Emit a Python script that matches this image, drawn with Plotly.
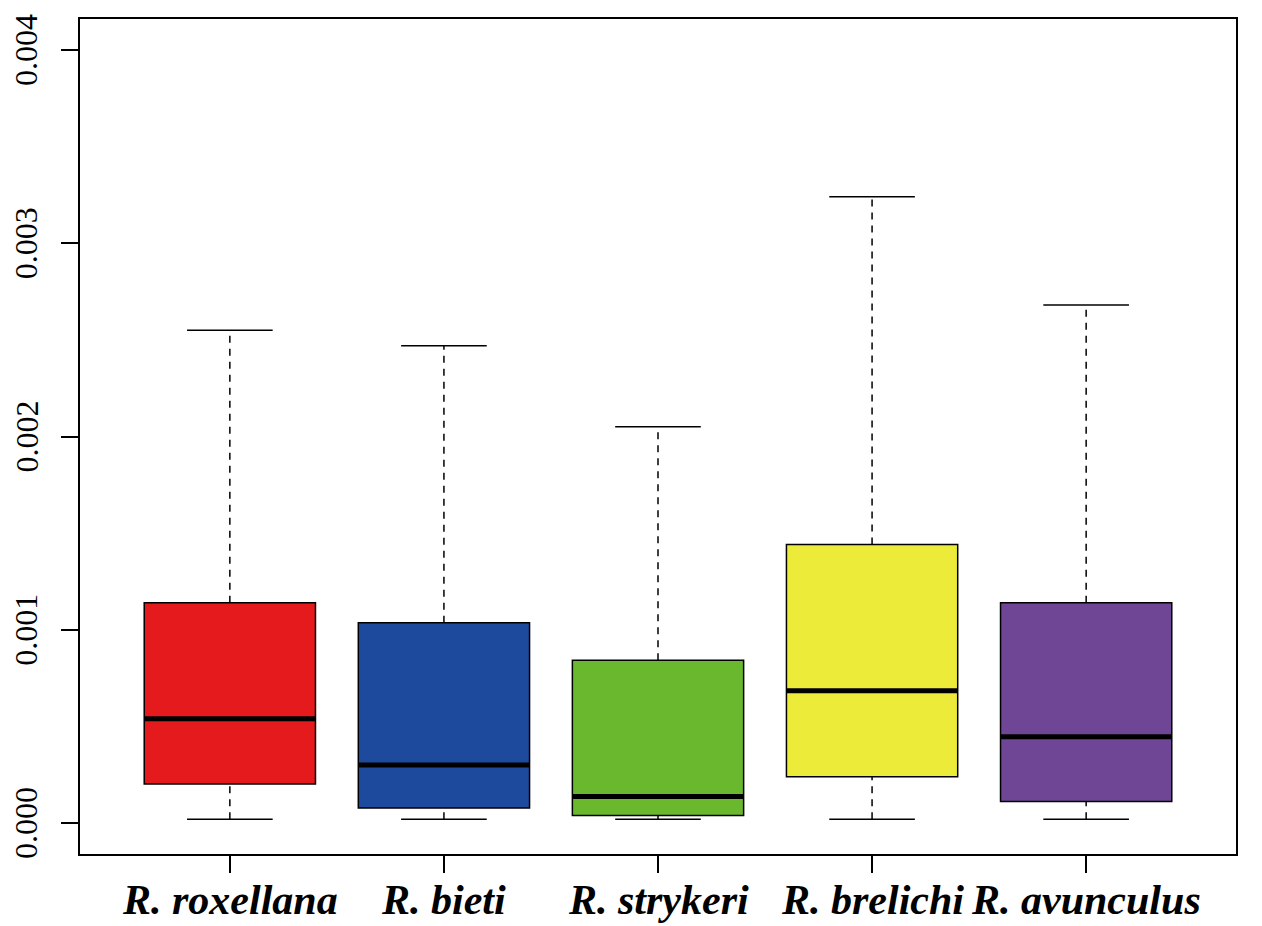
import plotly.graph_objects as go

# Species and five-number summaries of the distribution
species = ["R. roxellana", "R. bieti", "R. strykeri", "R. brelichi", "R. avunculus"]
lower_whisker = [0.00002, 0.00002, 0.00002, 0.00002, 0.00002]
q1 = [0.000202, 0.000078, 0.000039, 0.00024, 0.000112]
median = [0.00054, 0.0003, 0.000138, 0.000684, 0.000446]
q3 = [0.00114, 0.001036, 0.000843, 0.001441, 0.00114]
upper_whisker = [0.00255, 0.00247, 0.00205, 0.00324, 0.00268]
colors = ["#E41A1C", "#1D4A9C", "#6AB82E", "#ECEB3A", "#6F4695"]
y_ticks = [0.0, 0.001, 0.002, 0.003, 0.004]

positions = list(range(1, len(species) + 1))
box_width = 0.8
cap_half = 0.2
serif = "Times New Roman, Liberation Serif, serif"

fig = go.Figure()

for i, pos in enumerate(positions):
    # dashed whiskers
    for a, b in ((q3[i], upper_whisker[i]), (lower_whisker[i], q1[i])):
        fig.add_trace(go.Scatter(
            x=[pos, pos], y=[a, b], mode="lines",
            line=dict(color="black", width=1.5, dash="7px,6px"),
            showlegend=False, hoverinfo="skip"))
    # whisker caps
    for v in (upper_whisker[i], lower_whisker[i]):
        fig.add_trace(go.Scatter(
            x=[pos - cap_half, pos + cap_half], y=[v, v], mode="lines",
            line=dict(color="black", width=1.5),
            showlegend=False, hoverinfo="skip"))
    # box body
    fig.add_trace(go.Box(
        x=[pos], q1=[q1[i]], median=[median[i]], q3=[q3[i]],
        lowerfence=[q1[i]], upperfence=[q3[i]],
        width=box_width, whiskerwidth=0,
        fillcolor=colors[i], line=dict(color="black", width=1.5),
        boxpoints=False, showlegend=False, name=species[i]))
    # thick median bar
    fig.add_trace(go.Scatter(
        x=[pos - box_width / 2, pos + box_width / 2], y=[median[i], median[i]],
        mode="lines", line=dict(color="black", width=5),
        showlegend=False, hoverinfo="skip"))

# category labels under the axis
for pos, name in zip(positions, species):
    fig.add_annotation(
        x=pos, xref="x", y=0, yref="paper", yanchor="middle", yshift=-46,
        text=f"<b><i>{name}</i></b>", showarrow=False,
        font=dict(family=serif, size=42, color="black"))

# rotated value labels beside the axis
for v in y_ticks:
    fig.add_annotation(
        x=0, xref="paper", xanchor="center", xshift=-54, y=v, yref="y",
        text=f"{v:.3f}", textangle=-90, showarrow=False,
        font=dict(family=serif, size=32, color="black"))

fig.update_layout(
    width=1262, height=926,
    margin=dict(l=80, r=26, t=19, b=72, autoexpand=False),
    paper_bgcolor="white", plot_bgcolor="white",
    font=dict(family=serif, color="black"),
    showlegend=False,
)

fig.update_xaxes(
    range=[0.3, 5.7], tickmode="array", tickvals=positions, showticklabels=False,
    ticks="outside", ticklen=17, tickwidth=1.5, tickcolor="black",
    showline=True, linecolor="black", linewidth=1.5, mirror=True,
    showgrid=False, zeroline=False,
)
fig.update_yaxes(
    range=[-0.00016, 0.00416], tickmode="array", tickvals=y_ticks, showticklabels=False,
    ticks="outside", ticklen=17, tickwidth=1.5, tickcolor="black",
    showline=True, linecolor="black", linewidth=1.5, mirror=True,
    showgrid=False, zeroline=False,
)

fig.write_html("out.html")
